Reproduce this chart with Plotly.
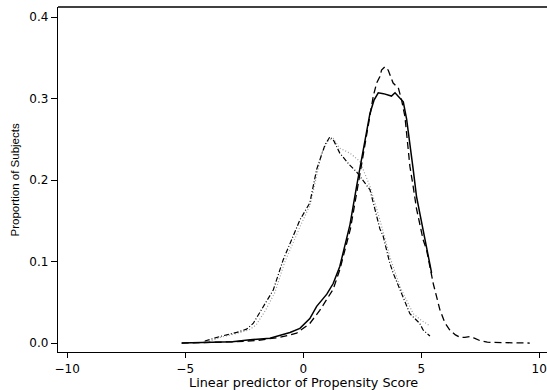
import plotly.graph_objects as go

# Right group: solid and dashed
solid_x = [-5.15, -4.0, -3.0, -2.25, -1.41, -0.56, -0.14, 0.28, 0.57, 1.0, 1.27, 1.55, 1.98, 2.26,
           2.54, 2.83, 3.0, 3.18, 3.4, 3.53, 3.67, 3.74, 3.89, 4.1, 4.24, 4.38, 4.45, 4.52, 4.66,
           4.8, 5.0, 5.23, 5.44]
solid_y = [0.0, 0.0005, 0.0015, 0.004, 0.006, 0.013, 0.018, 0.03, 0.045, 0.06, 0.073, 0.094, 0.145,
           0.192, 0.237, 0.282, 0.298, 0.307, 0.306, 0.305, 0.303, 0.303, 0.307, 0.301, 0.296,
           0.275, 0.258, 0.24, 0.213, 0.18, 0.15, 0.114, 0.086]

dashed_x = [-5.15, -4.0, -3.0, -2.0, -1.0, -0.28, 0.28, 0.7, 1.27, 1.55, 2.0, 2.3, 2.6, 2.97, 3.11,
            3.25, 3.32, 3.46, 3.6, 3.81, 4.03, 4.17, 4.31, 4.52, 4.66, 4.8, 5.08, 5.23, 5.51, 5.79,
            6.0, 6.21, 6.45, 6.64, 6.85, 7.06, 7.25, 7.49, 7.8, 8.3, 9.0, 9.6]
dashed_y = [0.0, 0.0005, 0.0015, 0.003, 0.007, 0.012, 0.024, 0.04, 0.066, 0.09, 0.14, 0.19, 0.24,
            0.303, 0.319, 0.327, 0.335, 0.339, 0.335, 0.319, 0.313, 0.298, 0.278, 0.217, 0.192,
            0.165, 0.127, 0.114, 0.073, 0.041, 0.025, 0.016, 0.01, 0.007, 0.007, 0.008, 0.006,
            0.003, 0.001, 0.0004, 0.0002, 0.0]

# Left group: dash-dot and dotted gray
dashdot_x = [-4.17, -3.53, -2.82, -2.4, -2.12, -1.69, -1.27, -0.85, -0.14, 0.28, 0.57, 0.92, 1.13,
             1.3, 1.55, 1.95, 2.26, 2.83, 3.25, 3.39, 3.67, 3.81, 4.1, 4.38, 4.52, 4.94, 5.08, 5.37]
dashdot_y = [0.0025, 0.008, 0.013, 0.017, 0.024, 0.045, 0.065, 0.102, 0.151, 0.172, 0.213, 0.243,
             0.253, 0.248, 0.233, 0.219, 0.21, 0.188, 0.14, 0.131, 0.098, 0.086, 0.065, 0.045,
             0.036, 0.024, 0.016, 0.0086]

dotted_x = [-4.0, -3.5, -2.8, -2.3, -2.0, -1.6, -1.2, -0.8, -0.1, 0.3, 0.78, 1.05, 1.27, 1.55,
            1.98, 2.4, 2.83, 3.25, 3.67, 4.1, 4.66, 5.0, 5.37]
dotted_y = [0.002, 0.007, 0.012, 0.016, 0.022, 0.04, 0.062, 0.098, 0.145, 0.17, 0.233, 0.248,
            0.251, 0.239, 0.233, 0.223, 0.192, 0.151, 0.106, 0.069, 0.036, 0.028, 0.021]

x_ticks = [-10, -5, 0, 5, 10]
x_tick_labels = ["\u221210", "\u22125", "0", "5", "10"]
y_ticks = [0.0, 0.1, 0.2, 0.3, 0.4]
y_tick_labels = ["0.0", "0.1", "0.2", "0.3", "0.4"]

x_title = "Linear predictor of Propensity Score"
y_title = "Proportion of Subjects"

fig = go.Figure()
fig.add_trace(go.Scatter(x=dotted_x, y=dotted_y, mode="lines",
                         line=dict(color="#9a9a9a", width=1.2, dash="1px,2px")))
fig.add_trace(go.Scatter(x=dashdot_x, y=dashdot_y, mode="lines",
                         line=dict(color="black", width=1.2, dash="5px,2px,1px,2px")))
fig.add_trace(go.Scatter(x=dashed_x, y=dashed_y, mode="lines",
                         line=dict(color="black", width=1.3, dash="7px,4px")))
fig.add_trace(go.Scatter(x=solid_x, y=solid_y, mode="lines",
                         line=dict(color="black", width=1.5)))

wide = "DejaVu Sans, sans-serif"
narrow = "Liberation Sans, Arial, sans-serif"
fig.update_layout(
    width=547, height=390,
    margin=dict(l=58, r=0, t=7, b=38),
    paper_bgcolor="white", plot_bgcolor="white",
    showlegend=False,
    font=dict(family=wide, size=12, color="black"),
    xaxis=dict(range=[-10.39, 10.33], tickvals=x_ticks, ticktext=x_tick_labels,
               showgrid=False, zeroline=False, showline=True, linecolor="black", linewidth=1.3,
               ticks="outside", ticklen=5, tickcolor="black", tickwidth=1,
               tickfont=dict(family=wide, size=12)),
    yaxis=dict(range=[-0.011, 0.4123], tickvals=y_ticks, ticktext=y_tick_labels,
               showgrid=False, zeroline=False, showline=True, linecolor="black", linewidth=1.3,
               ticks="outside", ticklen=6, tickcolor="black", tickwidth=1,
               tickfont=dict(family=wide, size=12)),
    shapes=[dict(type="line", xref="paper", yref="paper", x0=0, x1=1, y0=1, y1=1,
                 line=dict(color="black", width=1.3))],
    annotations=[
        dict(text=x_title, xref="paper", yref="paper", x=(303 - 58) / 489, y=-0.087,
             xanchor="center", yanchor="middle", showarrow=False,
             font=dict(family=wide, size=12.8)),
        dict(text=y_title, xref="paper", yref="paper", x=-0.088, y=0.5, textangle=-90,
             xanchor="center", yanchor="middle", showarrow=False,
             font=dict(family=narrow, size=11.5)),
    ],
)

fig.write_html("out.html", config={"displayModeBar": False},
               post_script="document.body.style.margin='0';document.body.style.overflow='hidden';")
